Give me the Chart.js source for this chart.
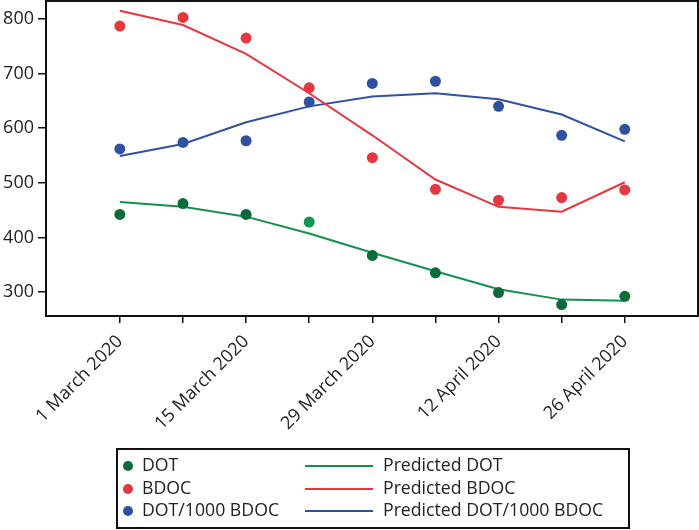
<!DOCTYPE html>
<html>
<head>
<meta charset="utf-8">
<script src="https://cdn.jsdelivr.net/npm/chart.js@4/dist/chart.umd.min.js"></script>
<style>
  html, body { margin: 0; padding: 0; background: #fff; }
  #wrap { position: relative; width: 699px; height: 530px; }
  #legend { position: absolute; left: 116px; top: 448px; width: 510px; height: 77px;
    border: 2px solid #111; box-sizing: content-box; font-family: "Open Sans", sans-serif; font-size: 17.7px; color: #222; }
  .row { position: absolute; left: 0; height: 22px; width: 100%; }
  .mk { position: absolute; left: 5px; top: 6px; width: 10px; height: 10px; border-radius: 50%; }
  .t1 { position: absolute; left: 24px; top: -3px; white-space: nowrap; }
  .ln { position: absolute; left: 187px; top: 10px; width: 68px; height: 2px; }
  .t2 { position: absolute; left: 265px; top: -3px; white-space: nowrap; }
</style>
</head>
<body>
<div id="wrap">
  <canvas id="c" width="699" height="530"></canvas>
  <div id="legend"></div>
</div>
<script>
const categories = ["1 March 2020", "8 March 2020", "15 March 2020", "22 March 2020", "29 March 2020",
                    "5 April 2020", "12 April 2020", "19 April 2020", "26 April 2020"];
const tickLabels = ["1 March 2020", "", "15 March 2020", "", "29 March 2020", "", "12 April 2020", "", "26 April 2020"];
const yTicks = [300, 400, 500, 600, 700, 800];

const dot          = [442, 462, 442, 428, 367, 335, 299, 277, 292];
const bdoc         = [787, 803, 765, 674, 546, 488, 468, 473, 487];
const dotPerBdoc   = [562, 574, 577, 648, 682, 686, 640, 587, 598];
const predDot      = [465, 456, 438, 407, 372, 338, 305, 286, 284];
const predBdoc     = [815, 789, 736, 664, 587, 506, 456, 447, 501];
const predDotPerBdoc = [549, 571, 611, 640, 658, 664, 653, 625, 576];

const GREEN_DOT = "#0b6b3b", GREEN_DOT2 = "#10964f", GREEN_LINE = "#14904e";
const RED = "#e5383e", BLUE = "#3050a0";

const toXY = arr => arr.map((v, i) => ({ x: i, y: v }));

const datasets = [
  { label: "DOT", data: toXY(dot), showLine: false, pointRadius: 5.5, pointHoverRadius: 5.5,
    pointBackgroundColor: dot.map((v, i) => i === 3 ? GREEN_DOT2 : GREEN_DOT), pointBorderWidth: 0, order: 1 },
  { label: "BDOC", data: toXY(bdoc), showLine: false, pointRadius: 5.5, pointBackgroundColor: RED, pointBorderWidth: 0, order: 1 },
  { label: "DOT/1000 BDOC", data: toXY(dotPerBdoc), showLine: false, pointRadius: 5.5, pointBackgroundColor: BLUE, pointBorderWidth: 0, order: 1 },
  { label: "Predicted DOT", data: toXY(predDot), showLine: true, pointRadius: 0, borderColor: GREEN_LINE, borderWidth: 2, tension: 0, order: 2 },
  { label: "Predicted BDOC", data: toXY(predBdoc), showLine: true, pointRadius: 0, borderColor: RED, borderWidth: 2, tension: 0, order: 2 },
  { label: "Predicted DOT/1000 BDOC", data: toXY(predDotPerBdoc), showLine: true, pointRadius: 0, borderColor: BLUE, borderWidth: 2, tension: 0, order: 2 }
];

const boxPlugin = {
  id: "box",
  afterDraw(chart) {
    const a = chart.chartArea, ctx = chart.ctx;
    ctx.save();
    ctx.strokeStyle = "#111";
    ctx.lineWidth = 2;
    ctx.strokeRect(a.left, a.top, a.right - a.left, a.bottom - a.top);
    ctx.restore();
  }
};

new Chart(document.getElementById("c"), {
  type: "scatter",
  data: { datasets },
  plugins: [boxPlugin],
  options: {
    responsive: false,
    animation: false,
    layout: { autoPadding: false, padding: { top: 1, right: 1, left: 0, bottom: 0 } },
    plugins: { legend: { display: false }, tooltip: { enabled: false } },
    scales: {
      x: {
        type: "linear", min: -1.17, max: 9.16,
        afterBuildTicks: s => { s.ticks = categories.map((c, i) => ({ value: i })); },
        afterFit: s => { s.height = 214; s.paddingLeft = 0; s.paddingRight = 0; },
        ticks: {
          autoSkip: false, maxRotation: 45, minRotation: 45, color: "#222", padding: 8,
          font: { family: "Open Sans", size: 18 },
          callback: (v) => tickLabels[v] ?? ""
        },
        grid: { drawOnChartArea: false, drawTicks: true, tickLength: 7, color: "#111", lineWidth: 1.5 },
        border: { display: false }
      },
      y: {
        min: 256, max: 833,
        afterBuildTicks: s => { s.ticks = yTicks.map(v => ({ value: v })); },
        afterFit: s => { s.width = 46; s.paddingTop = 0; s.paddingBottom = 0; },
        ticks: { color: "#222", font: { family: "Open Sans", size: 18 }, padding: 4 },
        grid: { drawOnChartArea: false, drawTicks: true, tickLength: 8, color: "#111", lineWidth: 1.5 },
        border: { display: false }
      }
    }
  }
});

// HTML legend built from datasets
const leg = document.getElementById("legend");
for (let r = 0; r < 3; r++) {
  const pts = datasets[r], ln = datasets[r + 3];
  const row = document.createElement("div");
  row.className = "row";
  row.style.top = (5 + r * 22.5) + "px";
  const col = r === 0 ? GREEN_DOT : pts.pointBackgroundColor;
  const lcol = ln.borderColor;
  row.innerHTML = `<span class="mk" style="background:${col}"></span><span class="t1">${pts.label}</span>` +
                  `<span class="ln" style="background:${lcol}"></span><span class="t2">${ln.label}</span>`;
  leg.appendChild(row);
}
</script>
</body>
</html>
